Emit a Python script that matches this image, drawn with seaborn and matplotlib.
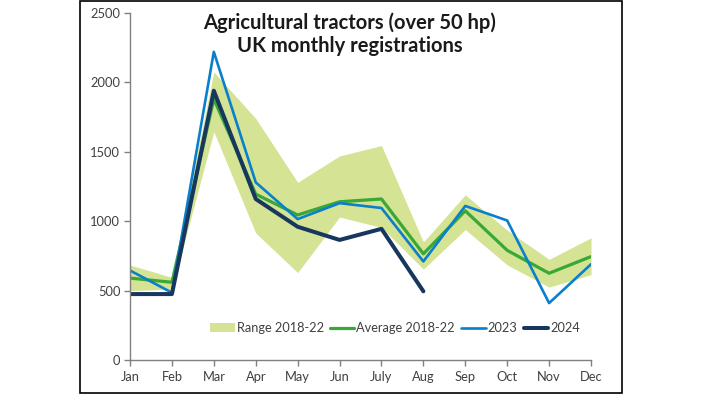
import pandas as pd
import numpy as np
import matplotlib
matplotlib.use('Agg')
import matplotlib.pyplot as plt
import seaborn as sns
from matplotlib.patches import Rectangle

sns.set_theme(style='white')
plt.rcParams['font.family'] = ['Lato', 'DejaVu Sans']

# data
months = ['Jan', 'Feb', 'Mar', 'Apr', 'May', 'Jun', 'July', 'Aug', 'Sep', 'Oct', 'Nov', 'Dec']
range_low = [500, 510, 1645, 915, 630, 1030, 955, 655, 940, 685, 525, 615]
range_high = [685, 595, 2075, 1740, 1280, 1470, 1545, 850, 1190, 935, 725, 880]
avg_2018_22 = [590, 560, 1880, 1195, 1045, 1140, 1160, 765, 1075, 790, 625, 745]
y2023 = [645, 485, 2220, 1280, 1015, 1130, 1095, 710, 1110, 1005, 410, 690]
y2024 = [475, 475, 1940, 1160, 960, 865, 945, 495]

df = pd.DataFrame({'month': np.arange(12), 'avg': avg_2018_22, 'y2023': y2023})
df24 = pd.DataFrame({'month': np.arange(len(y2024)), 'y2024': y2024})

fig = plt.figure(figsize=(7.02, 3.95), dpi=100)
ax = fig.add_axes([0.1852, 0.0886, 0.6567, 0.8785])

ax.fill_between(df['month'], range_low, range_high, color='#d4e394', lw=0,
                label='Range 2018-22')
sns.lineplot(data=df, x='month', y='avg', color='#3aa835', lw=2.3,
             label='Average 2018-22', ax=ax)
sns.lineplot(data=df, x='month', y='y2023', color='#0a7fcb', lw=1.9,
             label='2023', ax=ax)
sns.lineplot(data=df24, x='month', y='y2024', color='#17375e', lw=2.9,
             label='2024', ax=ax)

ax.set_xlim(0, 11)
ax.set_ylim(0, 2500)
ax.set_xticks(range(12))
ax.set_xticklabels(months)
ax.set_yticks(range(0, 2501, 500))
ax.set_xlabel('')
ax.set_ylabel('')
for s in ['top', 'right']:
    ax.spines[s].set_visible(False)
for s in ['left', 'bottom']:
    ax.spines[s].set_color('#808080')
    ax.spines[s].set_linewidth(1)
ax.tick_params(axis='both', which='both', length=4, width=1, color='#808080',
               labelsize=9.3, labelcolor='#404040', direction='out')
ax.tick_params(axis='x', pad=4)
ax.tick_params(axis='y', pad=3)
ax.xaxis.set_ticks_position('bottom')
ax.yaxis.set_ticks_position('left')

ax.legend(loc='center', bbox_to_anchor=(0.575, 0.092), ncol=4, frameon=False,
          fontsize=9.2, handlelength=1.9, handletextpad=0.15, columnspacing=0.5,
          labelcolor='#404040')

fig.text(0.4986, 0.913, 'Agricultural tractors (over 50 hp)\nUK monthly registrations',
         ha='center', va='center', fontsize=14.5, fontweight='bold', color='#1a1a1a',
         linespacing=1.15)

# outer frame around the chart
fig.patches.append(Rectangle((0.114, 0.005), 0.772, 0.992, transform=fig.transFigure,
                             fill=False, edgecolor='black', lw=1.2))

fig.savefig('out.png', dpi=100)
